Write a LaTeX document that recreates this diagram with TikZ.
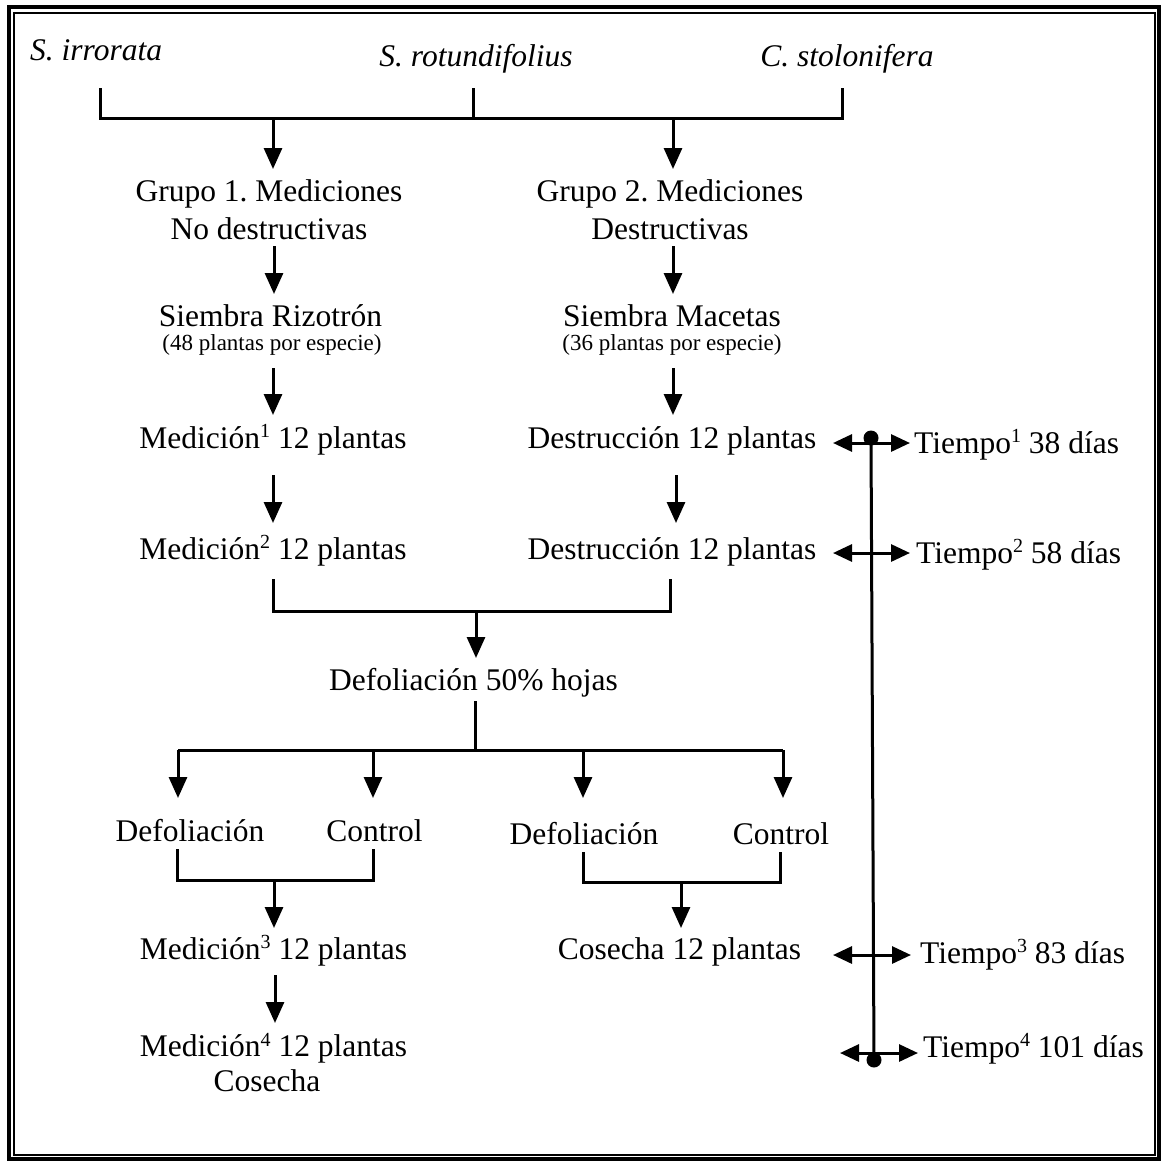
\documentclass[tikz,border=0pt]{standalone}
\usepackage{fontspec}
\setmainfont{Liberation Serif}
\usetikzlibrary{arrows.meta}
\frenchspacing
\newcommand{\bigtxt}{\fontsize{31.5}{36}\selectfont}
\newcommand{\smalltxt}{\fontsize{23}{26}\selectfont}
\newcommand{\sps}[1]{\raisebox{10.5pt}{\fontsize{20}{20}\selectfont #1}}
\tikzset{
  ln/.style={line width=3pt},
  arr/.style={line width=3pt,-{Triangle[width=18pt,length=21pt]}},
  darr/.style={line width=3pt,{Triangle[width=17pt,length=19pt]}-{Triangle[width=17pt,length=19pt]}},
  txt/.style={inner sep=0pt,anchor=base,font=\bigtxt},
  txtl/.style={inner sep=0pt,anchor=base west,font=\bigtxt},
  smalltext/.style={inner sep=0pt,anchor=base,font=\smalltxt},
  dotnode/.style={circle,fill=black,inner sep=0pt,minimum size=15pt}
}
\begin{document}
\begin{tikzpicture}[x=1pt,y=-1pt]
\useasboundingbox (0,0) rectangle (1161,1162);
% border
\draw[line width=4pt] (9,7) rectangle (1158.5,1158.5);
\draw[line width=2pt] (13.5,12.5) rectangle (1155,1155.3);

% species
\node[txtl,font=\bigtxt\itshape] (sp1) at (30,60) {S. irrorata};
\node[txt,font=\bigtxt\itshape] (sp2) at (476,66.7) {S. rotundifolius};
\node[txt,font=\bigtxt\itshape] (sp3) at (847,66.7) {C. stolonifera};
\coordinate (t1) at (100,88); \coordinate (b1) at (100,118);
\coordinate (t2) at (473,88); \coordinate (b2) at (473,118);
\coordinate (t3) at (842,88); \coordinate (b3) at (842,118);
\draw[ln] (t1) -- (b1) -- (b3) -- (t3);
\draw[ln] (t2) -- (b2);
\coordinate (ja) at (273,118); \coordinate (jb) at (673,118);

% groups
\node[txt] (g1a) at (269,201.6) {Grupo 1. Mediciones};
\node[txt] (g1b) at (269,239) {No destructivas};
\node[txt] (g2a) at (670,201.6) {Grupo 2. Mediciones};
\node[txt] (g2b) at (670,239) {Destructivas};
\coordinate (g1top) at (273,169); \coordinate (g2top) at (673,169);
\draw[arr] (ja) -- (g1top);
\draw[arr] (jb) -- (g2top);

% siembra
\node[txt] (s1) at (270.5,326.7) {Siembra Rizotrón};
\node[smalltext] (s1b) at (272,350) {(48 plantas por especie)};
\node[txt] (s2) at (672,326.7) {Siembra Macetas};
\node[smalltext] (s2b) at (672,350) {(36 plantas por especie)};
\coordinate (g1bot) at (274,246); \coordinate (s1top) at (274,294);
\coordinate (g2bot) at (673,246); \coordinate (s2top) at (673,294);
\draw[arr] (g1bot) -- (s1top);
\draw[arr] (g2bot) -- (s2top);

% first measurement
\node[txt] (m1) at (273,448.3) {Medición\sps{1} 12 plantas};
\node[txt] (d1) at (672,448.3) {Destrucción 12 plantas};
\coordinate (s1bot) at (273,368); \coordinate (m1top) at (273,415);
\coordinate (s2bot) at (673,368); \coordinate (d1top) at (673,415);
\draw[arr] (s1bot) -- (m1top);
\draw[arr] (s2bot) -- (d1top);

% second measurement
\node[txt] (m2) at (273,559.3) {Medición\sps{2} 12 plantas};
\node[txt] (d2) at (672,559.3) {Destrucción 12 plantas};
\coordinate (m1bot) at (273,475); \coordinate (m2top) at (273,523);
\coordinate (d1bot) at (676,475); \coordinate (d2top) at (676,523);
\draw[arr] (m1bot) -- (m2top);
\draw[arr] (d1bot) -- (d2top);

% merge
\coordinate (m2bot) at (273,579); \coordinate (m2j) at (273,611);
\coordinate (d2bot) at (670,579); \coordinate (d2j) at (670,611);
\draw[ln] (m2bot) -- (m2j) -- (d2j) -- (d2bot);
\coordinate (mj) at (476,611); \coordinate (deftop) at (476,658);
\draw[arr] (mj) -- (deftop);
\node[txt] (def) at (473.5,690) {Defoliación 50\% hojas};

% split
\coordinate (defbot) at (475,701); \coordinate (sj) at (475,750);
\draw[ln] (defbot) -- (sj);
\coordinate (hl) at (178,750); \coordinate (hr) at (783,750);
\draw[ln] (hl) -- (hr);
\node[txt] (dl) at (190,841.7) {Defoliación};
\node[txt] (cl) at (374.5,841.7) {Control};
\node[txt] (dr) at (584,844) {Defoliación};
\node[txt] (cr) at (781,844) {Control};
\coordinate (h1) at (178,750); \coordinate (a1) at (178,798);
\coordinate (h2) at (373,750); \coordinate (a2) at (373,798);
\coordinate (h3) at (583,750); \coordinate (a3) at (583,798);
\coordinate (h4) at (783,750); \coordinate (a4) at (783,798);
\draw[arr] (h1) -- (a1);
\draw[arr] (h2) -- (a2);
\draw[arr] (h3) -- (a3);
\draw[arr] (h4) -- (a4);

% left bracket
\coordinate (lb1) at (177,849); \coordinate (lb1j) at (177,880);
\coordinate (lb2) at (373,849); \coordinate (lb2j) at (373,880);
\draw[ln] (lb1) -- (lb1j) -- (lb2j) -- (lb2);
\coordinate (lbj) at (274,880); \coordinate (m3top) at (274,928);
\draw[arr] (lbj) -- (m3top);
% right bracket
\coordinate (rb1) at (583,852); \coordinate (rb1j) at (583,882);
\coordinate (rb2) at (780,852); \coordinate (rb2j) at (780,882);
\draw[ln] (rb1) -- (rb1j) -- (rb2j) -- (rb2);
\coordinate (rbj) at (681,882); \coordinate (cotop) at (681,928);
\draw[arr] (rbj) -- (cotop);

\node[txt] (m3) at (273.5,959) {Medición\sps{3} 12 plantas};
\node[txt] (co) at (679.5,959) {Cosecha 12 plantas};
\coordinate (m3bot) at (275,975); \coordinate (m4top) at (275,1023);
\draw[arr] (m3bot) -- (m4top);
\node[txt] (m4) at (273.5,1056.7) {Medición\sps{4} 12 plantas};
\node[txt] (m4b) at (267,1091.7) {Cosecha};

% timeline
\node[dotnode] (dt) at (871,438) {};
\node[dotnode] (db) at (874,1060) {};
\draw[ln] (dt.center) -- (db.center);
\coordinate (l1) at (833,443); \coordinate (r1) at (910,443);
\coordinate (l2) at (833,553); \coordinate (r2) at (910,553);
\coordinate (l3) at (833,955); \coordinate (r3) at (911,955);
\coordinate (l4) at (840,1053); \coordinate (r4) at (918,1053);
\draw[darr] (l1) -- (r1);
\draw[darr] (l2) -- (r2);
\draw[darr] (l3) -- (r3);
\draw[darr] (l4) -- (r4);
\node[txtl] (ti1) at (914,453) {Tiempo\sps{1} 38 días};
\node[txtl] (ti2) at (916,563) {Tiempo\sps{2} 58 días};
\node[txtl] (ti3) at (920,963) {Tiempo\sps{3} 83 días};
\node[txtl] (ti4) at (923,1057) {Tiempo\sps{4} 101 días};
\end{tikzpicture}
\end{document}
